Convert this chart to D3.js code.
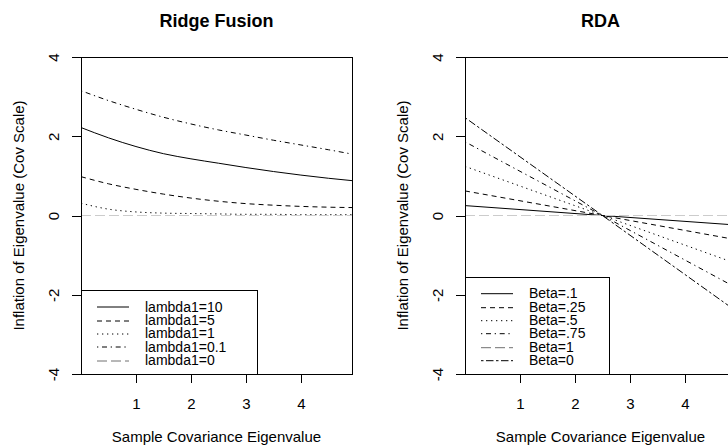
<!DOCTYPE html>
<html>
<head>
<meta charset="utf-8">
<script src="https://cdn.jsdelivr.net/npm/d3@7"></script>
<style>
  body { margin: 0; background: #fff; }
  svg text { font-family: "Liberation Sans", Arial, Helvetica, sans-serif; fill: #000; }
</style>
</head>
<body>
<svg width="728" height="445"></svg>
<script>
// ---- data ----
var xGrid = [0, 0.5, 1, 1.5, 2, 2.5, 3, 3.5, 4, 4.5, 4.93];

var ridgeLambda10 = [2.22, 1.96, 1.74, 1.56, 1.43, 1.32, 1.21, 1.11, 1.02, 0.94, 0.88];
var ridgeLambda5  = [0.98, 0.80, 0.66, 0.54, 0.44, 0.36, 0.30, 0.26, 0.23, 0.21, 0.20];
var ridgeLambda1  = [0.31, 0.16, 0.09, 0.06, 0.05, 0.04, 0.03, 0.03, 0.02, 0.02, 0.02];
var ridgeLambda01 = [3.15, 2.90, 2.68, 2.48, 2.31, 2.16, 2.03, 1.90, 1.78, 1.66, 1.55];
var ridgeLambda0  = [0, 0, 0, 0, 0, 0, 0, 0, 0, 0, 0];
var ridgeLabels = ["lambda1=10", "lambda1=5", "lambda1=1", "lambda1=0.1", "lambda1=0"];

var rdaX = [0, 2.5, 4.93];
var rdaBeta01  = [0.25, 0, -0.24];
var rdaBeta025 = [0.62, 0, -0.61];
var rdaBeta05  = [1.24, 0, -1.21];
var rdaBeta075 = [1.86, 0, -1.82];
var rdaBeta1   = [0, 0, 0];
var rdaBeta0   = [2.47, 0, -2.41];
var rdaLabels = ["Beta=.1", "Beta=.25", "Beta=.5", "Beta=.75", "Beta=1", "Beta=0"];

var xTicks = [1, 2, 3, 4];
var yTicks = [-4, -2, 0, 2, 4];

// line types (R lty look-alikes)
var lty = {
  solid: null,
  dashed: "5,4",
  dotted: "1.3,3.7",
  dotdash: "1.3,3.7,5,3.7",
  longdash: "10,4",
  twodash: "2.5,2.5,7.5,2.5"
};

var svg = d3.select("svg");

function drawPanel(opt) {
  var left = opt.left, top = 57, w = 271, h = 317;
  var g = svg.append("g").attr("transform", "translate(" + left + "," + top + ")");

  var x = d3.scaleLinear().domain([0, 4.93]).range([0, w]);
  var y = d3.scaleLinear().domain([-4, 4]).range([h, 0]);

  var line = d3.line()
    .x(function(d) { return x(d[0]); })
    .y(function(d) { return y(d[1]); })
    .curve(opt.curve);

  opt.series.forEach(function(s) {
    var pts = opt.xs.map(function(v, i) { return [v, s.values[i]]; });
    g.append("path")
      .attr("d", line(pts))
      .attr("fill", "none")
      .attr("stroke", s.plotColor)
      .attr("stroke-width", 1)
      .attr("stroke-dasharray", lty[s.lty]);
  });

  // axes
  var xAxis = g.append("g")
    .attr("transform", "translate(0," + h + ")")
    .call(d3.axisBottom(x).tickValues(xTicks).tickSize(9).tickFormat(function(d) { return String(d); }));
  xAxis.select(".domain").remove();
  xAxis.selectAll("text").attr("y", 29).attr("dy", null)
    .attr("dominant-baseline", "central").style("font-size", "15px");

  var yAxis = g.append("g")
    .call(d3.axisLeft(y).tickValues(yTicks).tickSize(9).tickFormat(function(d) { return String(d); }));
  yAxis.select(".domain").remove();
  yAxis.selectAll("text")
    .attr("x", null).attr("dy", null)
    .attr("text-anchor", "middle")
    .attr("dominant-baseline", "central")
    .attr("transform", "translate(-28,0) rotate(-90)")
    .style("font-size", "15px");
  svg.selectAll(".tick line").attr("shape-rendering", "crispEdges");

  // box
  g.append("rect")
    .attr("width", w).attr("height", h)
    .attr("fill", "none").attr("stroke", "#000")
    .attr("shape-rendering", "crispEdges");

  // labels
  g.append("text")
    .attr("x", w / 2).attr("y", -36)
    .attr("text-anchor", "middle").attr("dominant-baseline", "central")
    .style("font-size", "18px").style("font-weight", "bold")
    .text(opt.title);

  g.append("text")
    .attr("x", w / 2).attr("y", h + 62)
    .attr("text-anchor", "middle").attr("dominant-baseline", "central")
    .style("font-size", "15px")
    .text("Sample Covariance Eigenvalue");

  g.append("text")
    .attr("transform", "translate(-63," + (h / 2) + ") rotate(-90)")
    .attr("text-anchor", "middle").attr("dominant-baseline", "central")
    .style("font-size", "15px")
    .text("Inflation of Eigenvalue (Cov Scale)");

  // legend, bottom-left
  var rowH = 13.3, n = opt.series.length;
  var lh = n * rowH + 17;
  var lg = g.append("g").attr("transform", "translate(0," + (h - lh) + ")");
  lg.append("rect")
    .attr("width", opt.legendW).attr("height", lh)
    .attr("fill", "#fff").attr("stroke", "#000")
    .attr("shape-rendering", "crispEdges");
  opt.series.forEach(function(s, i) {
    var ry = lh - 14 - rowH * (n - 1 - i);
    var ly = Math.round(ry) + 0.5;
    lg.append("line")
      .attr("x1", 16).attr("x2", 48).attr("y1", ly).attr("y2", ly)
      .attr("stroke", s.legendColor).attr("stroke-width", 1)
      .attr("stroke-dasharray", lty[s.lty]);
    lg.append("text")
      .attr("x", 64).attr("y", ry)
      .attr("dominant-baseline", "central")
      .style("font-size", "14px")
      .text(opt.labels[i]);
  });
}

drawPanel({
  left: 81,
  title: "Ridge Fusion",
  xs: xGrid,
  curve: d3.curveMonotoneX,
  legendW: 176,
  labels: ridgeLabels,
  series: [
    { values: ridgeLambda10, lty: "solid", plotColor: "#000", legendColor: "#000" },
    { values: ridgeLambda5, lty: "dashed", plotColor: "#000", legendColor: "#000" },
    { values: ridgeLambda1, lty: "dotted", plotColor: "#000", legendColor: "#000" },
    { values: ridgeLambda01, lty: "dotdash", plotColor: "#000", legendColor: "#000" },
    { values: ridgeLambda0, lty: "longdash", plotColor: "#cccccc", legendColor: "#707070" }
  ]
});

drawPanel({
  left: 465,
  title: "RDA",
  xs: rdaX,
  curve: d3.curveLinear,
  legendW: 144,
  labels: rdaLabels,
  series: [
    { values: rdaBeta01, lty: "solid", plotColor: "#000", legendColor: "#000" },
    { values: rdaBeta025, lty: "dashed", plotColor: "#000", legendColor: "#000" },
    { values: rdaBeta05, lty: "dotted", plotColor: "#000", legendColor: "#000" },
    { values: rdaBeta075, lty: "dotdash", plotColor: "#000", legendColor: "#000" },
    { values: rdaBeta1, lty: "longdash", plotColor: "#cccccc", legendColor: "#707070" },
    { values: rdaBeta0, lty: "twodash", plotColor: "#000", legendColor: "#000" }
  ]
});
</script>
</body>
</html>
